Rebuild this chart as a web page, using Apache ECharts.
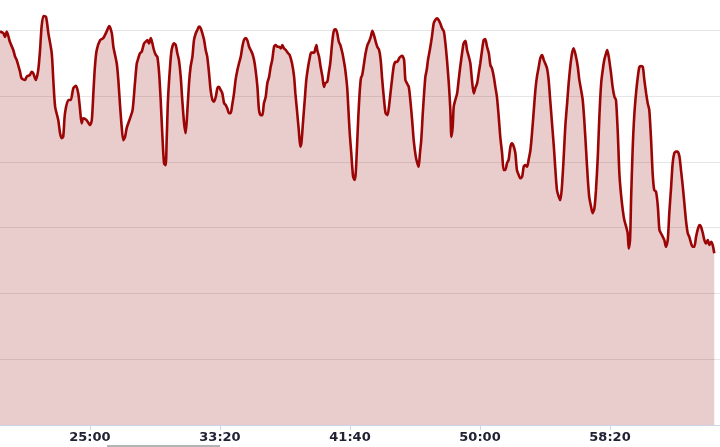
<!DOCTYPE html>
<html>
<head>
<meta charset="utf-8">
<script src="https://cdn.jsdelivr.net/npm/echarts@6/dist/echarts.min.js"></script>
<style>
html,body{margin:0;padding:0;background:#fff;}
#chart{width:720px;height:447px;}
</style>
</head>
<body>
<div id="chart"></div>
<script>
// elapsed time (seconds)
var times = [
1154,1167,1173,1180,1192,1205,1212,1218,1231,1237,1250,1257,1269,1276,1282,1292,1301,1308,1314,1321,1331,1340,1353,1359,1366,1378,1385,1391,1397,1404,1417,1426,1436,1446,1455,1462,1468,1474,1487,1500,1507,1513,1519,1526,1539,1551,1564,1574,1584,1590,1603,1609,1616,1622,1628,1635,1641,1654,1664,1673,1680,1686,1692,1699,1708,
1714,1721,1727,1734,1740,1746,1753,1759,1766,1772,1778,1785,1791,1795,1800,1808,1814,1823,1830,1836,1842,1849,1855,1862,1868,1874,1881,1887,1894,1900,1907,1913,1919,1926,1932,1939,1945,1951,1958,1964,1971,1977,1984,1990,1996,2003,2009,2016,2022,2028,2035,2041,2047,2054,2060,2067,2073,2080,2086,2092,2099,2105,2112,2118,2124,2131,2137,2144,2150,2157,2163,2169,2176,2182,2189,2195,2201,2208,2214,2221,2227,2234,2240,2246,2253,2262,
2268,2277,2285,2290,2296,2303,2309,2313,2319,2326,2332,2339,2345,2351,2362,2367,2371,2374,2381,2387,2394,2400,2405,2413,2418,2424,2430,2435,2439,2445,2451,2457,2463,2471,2477,2482,2489,2494,2499,2505,2512,2518,2522,2527,2532,2537,2542,2547,2554,2560,2567,2573,2580,2586,2592,2599,2605,2612,2618,2624,2631,2637,2644,2650,2657,2663,2669,2676,2682,2689,2695,2701,2708,2713,2719,2726,2732,2739,2745,2753,2759,2764,2769,2774,2780,2785,2790,2795,2800,2807,2815,
2822,2828,2835,2841,2847,2854,2861,2867,2873,2880,2886,2890,2895,2899,2905,2912,2918,2924,2931,2937,2944,2950,2957,2963,2969,2976,2982,2989,2995,3001,3008,3014,3020,3027,3034,3040,3046,3053,3059,3065,3072,3078,3085,3091,3097,3104,3110,3117,3123,3130,3136,3142,3149,3155,3162,3168,3174,3181,3187,3194,3200,3207,3213,3219,3226,3232,3239,3245,3251,3258,3264,3270,3277,3284,3290,3296,3303,3309,3315,3322,3328,3335,3341,3347,3354,3360,3369,
3376,3382,3389,3395,3401,3408,3414,3420,3427,3433,3440,3446,3453,3459,3466,3472,3478,3485,3489,3494,3497,3504,3510,3517,3523,3530,3536,3542,3549,3555,3562,3568,3572,3577,3581,3587,3593,3600,3607,3613,3619,3626,3632,3639,3645,3651,3658,3664,3670,3677,3684,3690,3696,3703,3709,3715,3722,3728,3735,3741,3747,3754,3760,3767,3773,3780,3786,3792,3799,3805,3812,3818,3824,3831,3837,3844,3850,3857,3863,3869,3876,3882,3889,3895,3901
];
// heart rate (bpm)
var heartRate = [
179.6,179.1,178.0,179.6,176.5,174.0,172.0,171.0,167.4,165.4,164.9,165.9,166.4,167.4,166.9,164.9,167.9,174.0,181.1,184.3,184.1,179.1,173.0,164.9,156.8,152.7,148.7,147.2,147.6,154.8,158.8,158.8,162.4,163.1,160.8,155.8,151.7,153.2,152.7,151.2,152.7,160.8,168.9,174.0,177.0,177.6,179.6,181.3,179.1,175.0,169.9,164.9,156.8,150.7,146.6,147.6,150.2,153.2,155.8,163.9,169.9,171.5,173.0,173.5,176.0,
176.5,177.0,176.0,177.6,176.0,174.0,172.5,172.0,166.9,158.8,148.7,139.5,139.0,146.6,158.8,168.9,174.0,176.0,175.5,173.0,171.0,165.9,158.8,151.7,148.7,154.8,163.9,168.9,172.0,177.0,179.1,180.1,181.1,180.6,179.1,177.0,174.0,172.0,166.9,161.8,158.8,158.3,159.8,162.4,162.8,161.8,160.8,157.8,157.3,156.3,154.8,154.8,157.3,160.8,164.9,167.9,169.9,172.0,175.0,177.0,177.6,177.0,175.0,174.0,173.0,171.0,167.9,162.8,155.8,154.2,154.2,157.8,159.8,163.9,165.9,168.9,171.0,175.0,175.5,175.0,175.0,174.5,175.5,174.5,174.0,173.0,
172.5,170.0,165.9,160.8,155.8,149.7,144.6,145.6,151.7,158.8,164.9,168.9,171.5,173.2,173.2,174.5,175.5,174.0,172.0,168.9,165.9,162.8,163.9,164.4,166.9,169.9,175.0,178.6,180.1,180.3,179.1,176.5,175.5,173.0,170.4,167.9,162.8,155.8,148.7,142.6,135.5,134.5,136.5,144.6,153.7,160.8,165.4,166.4,169.9,173.0,175.5,176.5,178.0,179.8,178.6,176.5,175.0,174.0,171.0,164.9,158.8,154.8,154.2,156.8,161.8,165.9,169.4,170.4,170.4,171.5,172.0,172.2,171.0,164.9,163.9,162.8,158.8,152.7,146.6,141.6,139.6,138.5,142.6,146.6,154.8,160.8,165.9,167.9,171.0,174.0,178.0,
182.1,183.1,183.6,183.1,182.1,180.6,179.6,176.0,171.0,163.9,155.8,147.6,150.7,156.8,158.8,160.8,164.9,168.9,173.0,176.0,176.8,174.0,172.0,169.9,164.9,160.8,162.4,163.9,166.9,169.9,174.0,177.0,177.3,175.0,173.0,169.4,168.4,165.9,162.8,159.8,153.7,147.6,142.6,137.5,137.5,139.6,140.6,144.6,145.6,144.6,142.6,137.5,136.0,135.0,135.5,138.5,139.0,138.5,140.6,143.6,148.7,155.8,161.8,165.9,168.9,171.5,172.5,171.0,169.9,168.4,164.9,158.8,151.7,144.6,137.5,131.4,129.4,128.4,132.4,141.6,150.7,157.8,163.9,168.9,173.0,174.5,172.0,
168.9,164.9,161.8,158.8,152.7,143.6,135.5,129.4,126.4,124.4,125.9,131.4,141.6,153.7,163.9,167.9,171.0,173.0,174.0,172.5,171.0,166.9,162.8,159.8,158.8,148.7,136.5,130.4,125.4,122.3,120.3,118.3,113.7,116.2,128.4,143.6,153.7,160.8,165.9,168.9,169.1,168.9,164.9,160.8,157.8,155.8,146.6,136.5,131.4,130.9,126.4,119.3,118.3,117.2,116.2,114.2,116.2,124.4,132.4,139.6,142.6,143.1,143.1,141.6,137.5,132.4,127.4,122.3,118.3,117.2,115.2,114.2,114.2,117.2,119.3,120.8,120.3,118.3,116.2,115.2,116.2,114.7,115.7,114.7,112.2
];
// x-axis tick positions (seconds) and their labels
var tickValues = [1500, 2000, 2500, 3000, 3500];
var tickLabels = ['25:00', '33:20', '41:40', '50:00', '58:20'];

var data = times.map(function (t, i) { return [t, heartRate[i]]; });

var chart = echarts.init(document.getElementById('chart'), null, {renderer: 'canvas'});
chart.setOption({
  animation: false,
  backgroundColor: '#ffffff',
  grid: {left: 0, right: 0, top: 0, bottom: 22, containLabel: false},
  xAxis: {
    type: 'value',
    min: 1154,
    max: 3923,
    splitLine: {show: false},
    axisLine: {show: true, lineStyle: {color: '#ccd6eb', width: 1}},
    axisTick: {show: true, customValues: tickValues, length: 5, lineStyle: {color: '#ccd6eb'}},
    axisLabel: {
      show: true,
      customValues: tickValues,
      margin: 6,
      color: '#222233',
      fontSize: 13,
      fontWeight: 'bold',
      fontFamily: 'DejaVu Sans',
      formatter: function (v) {
        var i = tickValues.indexOf(v);
        return i >= 0 ? tickLabels[i] : '';
      }
    }
  },
  yAxis: {
    type: 'value',
    min: 60,
    max: 189.2,
    interval: 20,
    axisLine: {show: false},
    axisTick: {show: false},
    axisLabel: {show: false},
    splitLine: {show: true, showMinLine: false, showMaxLine: false, lineStyle: {color: '#e6e6e6', width: 1}}
  },
  series: [{
    type: 'line',
    data: data,
    showSymbol: false,
    smooth: 0.25,
    lineStyle: {color: '#9b0505', width: 2.6},
    itemStyle: {color: '#9b0505'},
    areaStyle: {color: '#930000', opacity: 0.2, origin: 'start'}
  }],
  graphic: [{
    type: 'rect',
    shape: {x: 107, y: 445, width: 113, height: 2},
    style: {fill: '#b4b4b4'},
    silent: true
  }]
});
</script>
</body>
</html>
